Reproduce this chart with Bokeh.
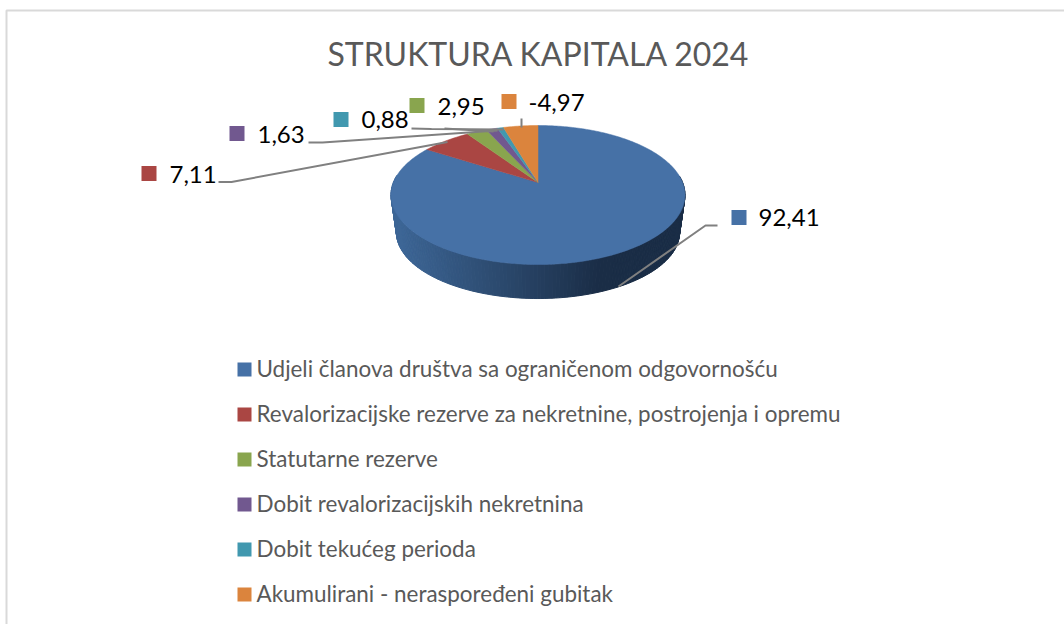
import math
from bokeh.plotting import figure
from bokeh.embed import file_html
from bokeh.resources import INLINE
from bokeh.core.properties import value

title = "STRUKTURA KAPITALA 2024"
categories = [
    "Udjeli članova društva sa ograničenom odgovornošću",
    "Revalorizacijske rezerve za nekretnine, postrojenja i opremu",
    "Statutarne rezerve",
    "Dobit revalorizacijskih nekretnina",
    "Dobit tekućeg perioda",
    "Akumulirani - neraspoređeni gubitak",
]
values = [92.41, 7.11, 2.95, 1.63, 0.88, -4.97]
colors = ["#4671a6", "#aa4643", "#89a54e", "#71588f", "#4198af", "#db843d"]

FONT = "Lato"
W, H = 1064, 624
p = figure(width=W, height=H, x_range=(0, W), y_range=(H, 0), toolbar_location=None,
           output_backend="svg", min_border=0, outline_line_color=None,
           background_fill_color="white", border_fill_color="white")
p.axis.visible = False
p.grid.visible = False

# chart frame
p.line([6, 6, W], [H, 10, 10], line_color="#d9d9d9", line_width=2)

# perspective pie geometry
CX, CY, B, A, K = 537.5, 182.0, 144.6, 67.25, 0.18
MID_Y, S_X, S_Y, BOT_Y = 194.5, 0.963, 0.95, 232.0


def top(theta):
    u, v = math.sin(theta), math.cos(theta)
    d = 1 + K * v
    return CX + B * u / d, CY - A * v / d


def bottom(theta):
    x, y = top(theta)
    return CX + (x - CX) * S_X, BOT_Y + (y - MID_Y) * S_Y


def wall_color(x):
    stops = [(396, (0x3d, 0x66, 0x96)), (600, (0x1a, 0x2d, 0x46)), (700, (0x1a, 0x2d, 0x46))]
    t = max(0.0, min(1.0, (x - stops[0][0]) / (stops[1][0] - stops[0][0])))
    c = [round(a + (b - a) * t) for a, b in zip(stops[0][1], stops[1][1])]
    return "#%02x%02x%02x" % tuple(c)


magnitudes = [abs(v) for v in values]
total = sum(magnitudes)
edges = [0.0]
for m in magnitudes:
    edges.append(edges[-1] + m / total * 2 * math.pi)

# side wall of the largest slice
N = 240
wx, wy, wc = [], [], []
for i in range(N):
    a0 = edges[0] + (edges[1] - edges[0]) * i / N
    a1 = edges[0] + (edges[1] - edges[0]) * (i + 1) / N
    if math.cos((a0 + a1) / 2) > 0.1:
        continue
    t0, t1, b0, b1 = top(a0), top(a1), bottom(a0), bottom(a1)
    wx.append([t0[0], t1[0], b1[0], b0[0]])
    wy.append([t0[1], t1[1], b1[1], b0[1]])
    wc.append(wall_color((t0[0] + t1[0]) / 2))
p.patches(wx, wy, fill_color=wc, line_color=wc, line_width=1)

# top face
for i, col in enumerate(colors):
    n = max(4, int((edges[i + 1] - edges[i]) * 60))
    pts = [top(edges[i] + (edges[i + 1] - edges[i]) * j / n) for j in range(n + 1)]
    xs = [CX] + [q[0] for q in pts]
    ys = [CY] + [q[1] for q in pts]
    p.patch(xs, ys, fill_color=col, line_color=col, line_width=0.5)

# leader lines (layout)
leaders = [
    ([717, 705, 618], [225, 225, 286]),
    ([218, 231, 447], [181.5, 181.5, 141.5]),
    ([308, 322, 497], [142, 142, 130]),
    ([411, 431, 503], [128, 128.5, 129]),
    ([444, 493], [128, 131]),
    ([521, 521], [118, 127]),
]
for lx, ly in leaders:
    p.line(lx, ly, line_color="#808080", line_width=2)

# value labels (layout)
swatch_x = [738.5, 148.5, 416.5, 236.5, 340.5, 508.5]
swatch_y = [217, 173, 105, 133, 119, 101]
text_x = [758, 169, 437, 257, 361, 528]
text_y = [217, 174, 106, 134, 119, 102]
p.rect(swatch_x, swatch_y, width=15, height=15, fill_color=colors, line_color=None)
labels = [f"{v:.2f}".replace(".", ",") for v in values]
p.text(text_x, text_y, text=labels, text_font=value(FONT), text_font_size="24px",
       text_color="#000000", text_align="left", text_baseline="middle")

# title
p.text([538.5], [53], text=[title], text_font=value(FONT), text_font_size="32px",
       text_color="#595959", text_align="center", text_baseline="middle")

# legend
leg_y = [368 + 45 * i for i in range(len(categories))]
p.rect([244] * len(categories), [y + 1 for y in leg_y], width=14, height=14,
       fill_color=colors, line_color=None)
p.text([256] * len(categories), leg_y, text=categories, text_font=value(FONT), text_font_size="22.45px",
       text_color="#595959", text_align="left", text_baseline="middle")

html = file_html(p, INLINE)
html = html.replace("<head>", "<head><style>html,body{margin:0;padding:0;overflow:hidden}</style>", 1)
open("out.html", "w").write(html)
